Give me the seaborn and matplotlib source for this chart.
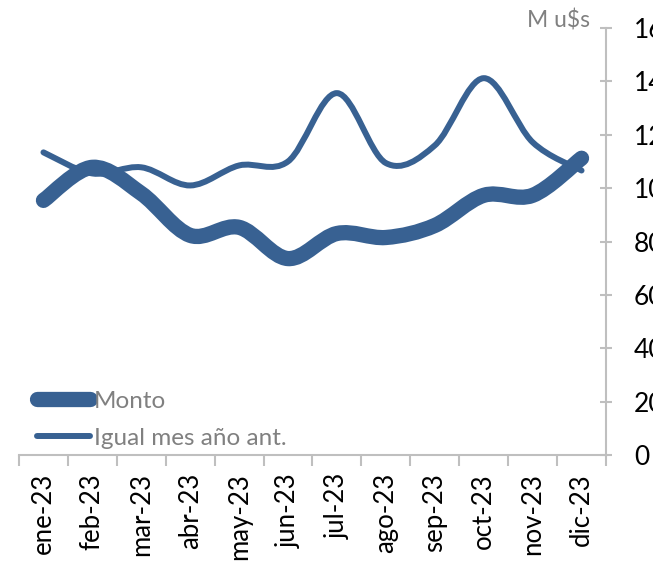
import matplotlib.pyplot as plt
import seaborn as sns
import numpy as np
from matplotlib.path import Path
from matplotlib.patches import PathPatch
from matplotlib.lines import Line2D

# Data
months = ['ene-23', 'feb-23', 'mar-23', 'abr-23', 'may-23', 'jun-23',
          'jul-23', 'ago-23', 'sep-23', 'oct-23', 'nov-23', 'dic-23']
monto = [95.4, 107.8, 98.0, 82.3, 85.3, 73.6, 83.0, 81.5, 86.0, 97.3, 97.3, 111.2]
igual_mes = [113.4, 105.5, 107.8, 101.0, 108.5, 110.0, 135.6, 109.4, 116.0, 141.2, 117.2, 106.6]
y_ticks = [0, 20, 40, 60, 80, 100, 120, 140, 160]

main_color = '#386192'
grey = '#bfbfbf'
text_grey = '#808080'

sns.set_theme(style='white')
plt.rcParams['font.family'] = ['Lato', 'DejaVu Sans']


# Smoothed line (Excel style, Catmull-Rom as cubic Bezier)
def smooth_path(xs, ys):
    pts = np.column_stack([xs, ys]).astype(float)
    n = len(pts)
    verts = [pts[0]]
    codes = [Path.MOVETO]
    for i in range(n - 1):
        p0 = pts[max(i - 1, 0)]
        p1 = pts[i]
        p2 = pts[i + 1]
        p3 = pts[min(i + 2, n - 1)]
        verts += [p1 + (p2 - p0) / 6, p2 - (p3 - p1) / 6, p2]
        codes += [Path.CURVE4] * 3
    return Path(verts, codes)


fig = plt.figure(figsize=(6.53, 5.65), dpi=100)
ax = fig.add_axes([19 / 653, 110 / 565, 587 / 653, 427 / 565])

x = np.arange(len(months))
for values, lw in [(igual_mes, 4.3), (monto, 11)]:
    patch = PathPatch(smooth_path(x, values), fill=False, edgecolor=main_color,
                      linewidth=lw, capstyle='round', joinstyle='round')
    ax.add_patch(patch)

ax.set_xlim(-0.5, len(months) - 0.5)
ax.set_ylim(0, 160)

# Axes styling
for side in ['left', 'top']:
    ax.spines[side].set_visible(False)
for side in ['right', 'bottom']:
    ax.spines[side].set_color(grey)
    ax.spines[side].set_linewidth(1.5)

ax.yaxis.tick_right()
ax.set_yticks(y_ticks)
ax.tick_params(axis='y', direction='inout', length=8, width=1.5, color=grey,
               labelsize=19, labelcolor='black', pad=16, right=True)

ax.set_xticks(x)
ax.set_xticklabels(months, rotation=90)
ax.tick_params(axis='x', which='major', length=0, labelsize=18.5, labelcolor='black', pad=13)
ax.set_xticks(np.arange(-0.5, len(months)), minor=True)
ax.tick_params(axis='x', which='minor', direction='out', length=8, width=1.5,
               color=grey, bottom=True)

# Legend
handles = [Line2D([], [], color=main_color, linewidth=11, solid_capstyle='round'),
           Line2D([], [], color=main_color, linewidth=4.3, solid_capstyle='round')]
leg = ax.legend(handles, ['Monto', 'Igual mes año ant.'], loc='lower left',
                bbox_to_anchor=(0.03, 0.015), frameon=False, fontsize=17.5,
                handlelength=2.2, handletextpad=0.15, labelspacing=0.65,
                borderpad=0, borderaxespad=0)
for t in leg.get_texts():
    t.set_color(text_grey)

fig.text(590 / 653, 1 - 20 / 565, 'M u$s', ha='right', va='center',
         color=text_grey, fontsize=16.5)

plt.savefig('out.png', dpi=100)
